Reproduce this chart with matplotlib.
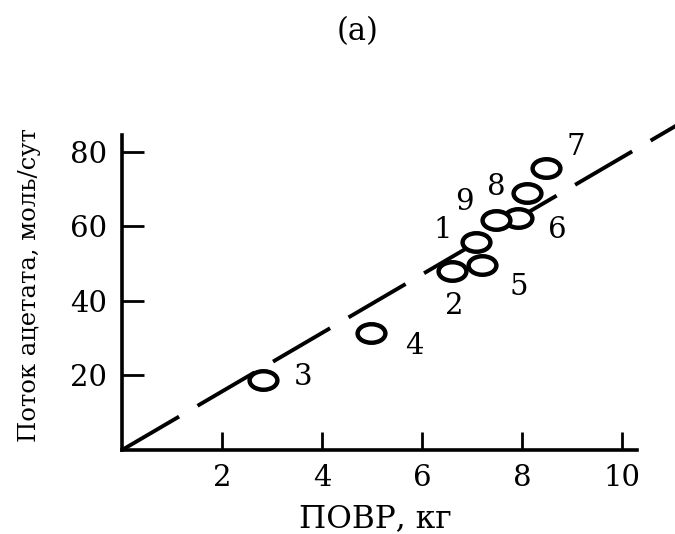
import numpy as np
import matplotlib as mpl
mpl.use('Agg')
import matplotlib.pyplot as plt
from matplotlib.path import Path

mpl.rcParams['font.family'] = ['DejaVu Serif']

# data
povr = [7.08, 6.60, 2.82, 4.98, 7.19, 7.92, 8.48, 8.10, 7.48]        # kg
flux = [55.9, 47.9, 18.8, 31.3, 49.5, 62.2, 75.6, 68.9, 61.7]        # mol/day
point_labels = ['1', '2', '3', '4', '5', '6', '7', '8', '9']
fit_slope = 7.85
fit_x = [0.0, 11.1]

x_ticks = [2, 4, 6, 8, 10]
y_ticks = [20, 40, 60, 80]

# label offsets in pixels (layout only)
offsets = [(-33, 12), (2, -35), (40, 3), (43, -13), (37, -22),
           (39, -12), (30, 21), (-31, 6), (-32, 18)]

fs = 21

fig = plt.figure(figsize=(6.75, 5.34), dpi=100)
ax = fig.add_axes([122/675, 1-450/534, 515/675, 315/534])

# ellipse marker (scan is stretched horizontally)
circ = Path.unit_circle()
ell = Path(circ.vertices * np.array([1.5, 1.0]), circ.codes)

fx = np.array(fit_x)
ax.plot(fx, fit_slope*fx, color='black', lw=2.8, dashes=(17, 5.5),
        clip_on=False, solid_capstyle='butt', zorder=2)
ax.plot(povr, flux, linestyle='none', marker=ell, markersize=20,
        markerfacecolor='white', markeredgecolor='black', markeredgewidth=3.2,
        clip_on=False, zorder=3)

for x, y, lab, off in zip(povr, flux, point_labels, offsets):
    ax.annotate(lab, (x, y), xytext=(off[0]*0.72, off[1]*0.72), textcoords='offset points',
                ha='center', va='center', fontsize=fs)

ax.set_xlim(0, 10.3)
ax.set_ylim(0, 84.5)
ax.set_xticks(x_ticks)
ax.set_yticks(y_ticks)
ax.tick_params(axis='x', direction='in', length=13, width=2, pad=10, labelsize=fs)
ax.tick_params(axis='y', direction='in', length=16, width=2, pad=11, labelsize=fs)
for s in ['top', 'right']:
    ax.spines[s].set_visible(False)
for s in ['left', 'bottom']:
    ax.spines[s].set_linewidth(2.6)

fig.text(375/675, 1-519/534, 'ПОВР, кг', ha='center', va='center', fontsize=22.5)
fig.text(30/675, 1-285/534, 'Поток ацетата, моль/сут', ha='center', va='center',
         rotation=90, fontsize=17.5)
fig.text(358/675, 1-32/534, '(a)', ha='center', va='center', fontsize=22)

fig.savefig('out.png', dpi=100)
